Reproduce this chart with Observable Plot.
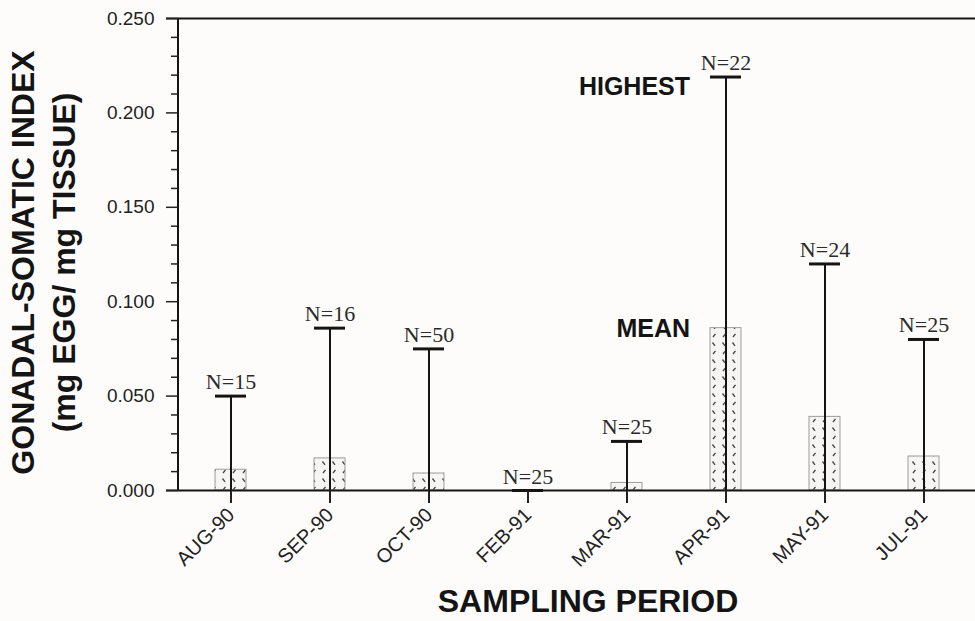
<!DOCTYPE html>
<html>
<head>
<meta charset="utf-8">
<script src="https://cdn.jsdelivr.net/npm/d3@7"></script>
<script src="https://cdn.jsdelivr.net/npm/@observablehq/plot@0.6"></script>
<style>
  html, body { margin: 0; padding: 0; background: #fdfcfa; }
  #chart svg { display: block; background: #fdfcfa; }
</style>
</head>
<body>
<div id="chart"></div>
<script>
// ---- Data ----
const periods = ["AUG-90", "SEP-90", "OCT-90", "FEB-91", "MAR-91", "APR-91", "MAY-91", "JUL-91"];
const meanGSI = [0.011, 0.017, 0.009, 0.000, 0.004, 0.086, 0.039, 0.018];
const highestGSI = [0.050, 0.086, 0.075, 0.000, 0.026, 0.219, 0.120, 0.080];
const sampleN = [15, 16, 50, 25, 25, 22, 24, 25];

const yDomain = [0, 0.25];
const yMajorTicks = [0, 0.05, 0.10, 0.15, 0.20, 0.25];
const yMinorTicks = [0.01, 0.02, 0.03, 0.04, 0.06, 0.07, 0.08, 0.09, 0.11, 0.12, 0.13, 0.14,
                     0.16, 0.17, 0.18, 0.19, 0.21, 0.22, 0.23, 0.24];

const annotPeriod = "APR-91";
const annotHighest = "HIGHEST";
const annotMean = "MEAN";
const yTitle = ["GONADAL-SOMATIC INDEX", "(mg EGG/ mg TISSUE)"];
const xTitle = "SAMPLING PERIOD";

// ---- Table built from the arrays ----
const rows = periods.map((p, i) => ({period: p, mean: meanGSI[i], highest: highestGSI[i], n: sampleN[i]}));
const annotRows = rows.filter(d => d.period === annotPeriod);

const sans = "'Liberation Sans', Arial, Helvetica, sans-serif";
const serif = "'Liberation Serif', 'Times New Roman', serif";
const ink = "#141414";

function patternDefs() {
  const defs = d3.create("svg:defs");
  const p = defs.append("pattern")
    .attr("id", "speckle")
    .attr("patternUnits", "userSpaceOnUse")
    .attr("width", 10).attr("height", 17);
  p.append("rect").attr("width", 10).attr("height", 17).attr("fill", "#f6f5f3");
  p.append("path")
    .attr("d", "M2.5,2.5 L5,5.8 M5.5,10.8 L3,14")
    .attr("stroke", "#444").attr("stroke-width", 1.3).attr("fill", "none");
  return defs.node();
}

function yAxisLine(index, scales, values, dims) {
  const x0 = dims.marginLeft;
  const yTop = scales.y(yDomain[1]);
  const yBot = scales.y(yDomain[0]);
  return d3.create("svg:line")
    .attr("x1", x0).attr("x2", x0)
    .attr("y1", yTop).attr("y2", yBot)
    .attr("stroke", ink).attr("stroke-width", 2)
    .node();
}

const chart = Plot.plot({
  width: 975,
  height: 621,
  marginLeft: 178,
  marginRight: 0,
  marginTop: 18,
  marginBottom: 131,
  style: {fontFamily: sans, color: ink, background: "#fdfcfa"},
  x: {domain: periods, paddingInner: 0.69, paddingOuter: 0.345},
  y: {domain: yDomain},
  marks: [
    patternDefs,
    // mean bars
    Plot.barY(rows, {x: "period", y: "mean", fill: "url(#speckle)", stroke: "#9c9c9c", strokeWidth: 1}),
    // baseline and top line
    Plot.ruleY(yDomain, {stroke: ink, strokeWidth: 2, insetLeft: -12}),
    // whiskers to highest value
    Plot.ruleX(rows, {x: "period", y1: 0, y2: "highest", stroke: ink, strokeWidth: 2}),
    Plot.tickY(rows, {x: "period", y: "highest", stroke: ink, strokeWidth: 3}),
    // axes
    yAxisLine,
    Plot.axisY({ticks: yMajorTicks, tickFormat: d3.format(".3f"), tickSize: 12, tickPadding: 12,
                fontSize: 19, strokeWidth: 1.5, label: null, color: "#222"}),
    Plot.axisY({ticks: yMinorTicks, tickFormat: () => "", tickSize: 7, tickPadding: 0,
                strokeWidth: 1.5, label: null, color: "#222"}),
    Plot.axisX({tickSize: 13, tickRotate: -45, tickPadding: 8, fontSize: 20, strokeWidth: 2,
                label: null, color: "#222"}),
    // N labels
    Plot.text(rows, {x: "period", y: "highest", text: d => `N=${d.n}`, dy: -7, lineAnchor: "bottom",
                     fontFamily: serif, fontSize: 22, fill: "#2a2a2a"}),
    // annotations
    Plot.text(annotRows, {x: "period", y: "highest", text: () => annotHighest, textAnchor: "end",
                          dx: -36, dy: 10, fontSize: 25, fontWeight: "bold", fill: ink}),
    Plot.text(annotRows, {x: "period", y: "mean", text: () => annotMean, textAnchor: "end",
                          dx: -36, dy: 1, fontSize: 25, fontWeight: "bold", fill: ink}),
    // axis titles
    Plot.text([yTitle.join("\n")], {text: d => d, frameAnchor: "left", rotate: -90, dx: -137, dy: 8,
                                    textAnchor: "middle", fontSize: 32, fontWeight: "bold",
                                    lineHeight: 1.28, fill: ink}),
    Plot.text([xTitle], {text: d => d, frameAnchor: "bottom", dx: 11, dy: 121, textAnchor: "middle",
                         fontSize: 32, fontWeight: "bold", fill: ink})
  ]
});

document.getElementById("chart").appendChild(chart);
</script>
</body>
</html>
